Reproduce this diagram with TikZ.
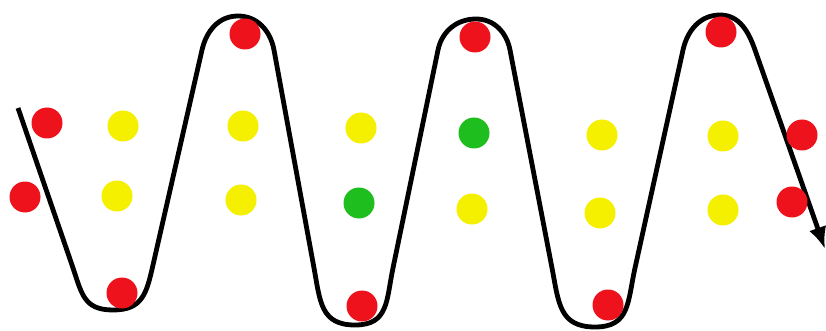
\documentclass[tikz,border=0pt]{standalone}
\usetikzlibrary{arrows.meta}
\definecolor{dotred}{RGB}{238,18,28}
\definecolor{dotyellow}{RGB}{244,240,0}
\definecolor{dotgreen}{RGB}{30,190,30}
\begin{document}
\begin{tikzpicture}[x=1pt,y=-1pt,
  dot/.style={circle,inner sep=0pt,minimum size=31pt},
  rdot/.style={dot,fill=dotred},
  ydot/.style={dot,fill=dotyellow},
  gdot/.style={dot,fill=dotgreen},
  wave/.style={line width=4.8pt,line join=round,-{Latex[length=22pt,width=18pt]}},
  turnlo/.style={looseness=1.25}]
\fill[white] (0,0) rectangle (826,331);
\useasboundingbox (0,0) rectangle (826,331);
\coordinate (s) at (18,108);
\coordinate (e) at (825,249);
\draw[wave] (s) -- (72,265)
  to[turnlo,out=-71,in=180] (113,310) to[turnlo,out=0,in=-102.8] (153,265)
  -- (202,50)
  to[out=77.2,in=180] (238,16) to[out=0,in=100.4] (274,50)
  -- (314,268)
  to[turnlo,out=-79.6,in=180] (355,325) to[turnlo,out=0,in=-101.7] (393,268)
  -- (438,50)
  to[out=78.3,in=180] (476,19) to[out=0,in=100.9] (510,50)
  -- (552,268)
  to[turnlo,out=-79.1,in=180] (595,327) to[turnlo,out=0,in=-102.4] (635,268)
  -- (683,50)
  to[out=77.6,in=180] (720,15) to[out=0,in=109.2] (755,50)
  -- (e);
% red dots
\node[rdot] (r1) at (47,123) {};
\node[rdot] (r2) at (25,197) {};
\node[rdot] (r3) at (122,293) {};
\node[rdot] (r4) at (245,34) {};
\node[rdot] (r5) at (362,306) {};
\node[rdot] (r6) at (475,37) {};
\node[rdot] (r7) at (608,305) {};
\node[rdot] (r8) at (721,32) {};
\node[rdot] (r9) at (802,135) {};
\node[rdot] (r10) at (792,202) {};
% yellow dots
\node[ydot] (y1) at (123,126) {};
\node[ydot] (y2) at (117,196) {};
\node[ydot] (y3) at (243,126) {};
\node[ydot] (y4) at (241,200) {};
\node[ydot] (y5) at (361,128) {};
\node[ydot] (y6) at (472,209) {};
\node[ydot] (y7) at (602,135) {};
\node[ydot] (y8) at (600,213) {};
\node[ydot] (y9) at (723,136) {};
\node[ydot] (y10) at (723,210) {};
% green dots
\node[gdot] (g1) at (359,203) {};
\node[gdot] (g2) at (474,133) {};
\end{tikzpicture}
\end{document}
